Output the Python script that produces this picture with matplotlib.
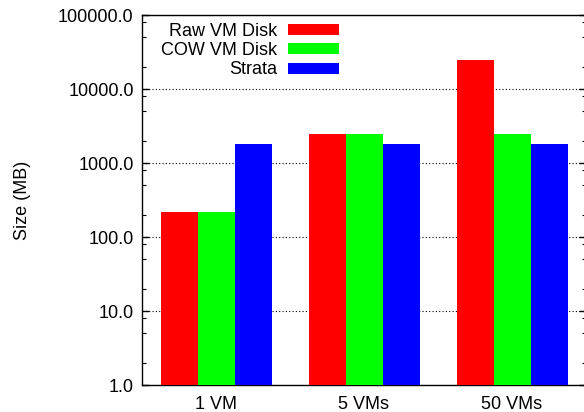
import matplotlib
matplotlib.use("Agg")
import matplotlib.pyplot as plt
import numpy as np
from matplotlib.ticker import LogLocator, FuncFormatter, NullFormatter

plt.rcParams['font.family'] = ['Liberation Sans', 'DejaVu Sans']

groups = ["1 VM", "5 VMs", "50 VMs"]
series = ["Raw VM Disk", "COW VM Disk", "Strata"]
raw_vm = [218, 2443, 24430]
cow_vm = [218, 2443, 2443]
strata = [1805, 1805, 1805]
colors = ["#ff0000", "#00ff00", "#0000ff"]

fig = plt.figure(figsize=(5.84, 4.12), dpi=100)
ax = fig.add_axes([142/584, 27/412, 444/584, 370/412])

x = np.arange(len(groups))
w = 0.25
for i, (vals, name) in enumerate(zip([raw_vm, cow_vm, strata], series)):
    ax.bar(x + (i - 1) * w, vals, w, color=colors[i], label=name, zorder=3, linewidth=0)

ax.set_yscale("log")
ax.set_ylim(1, 100000)
ax.set_xlim(-0.5, 2.5)
ax.set_xticks(x)
ax.set_xticklabels(groups)
ax.tick_params(axis='x', length=0, labelsize=13, pad=8)

ax.yaxis.set_major_locator(LogLocator(base=10, numticks=10))
ax.yaxis.set_minor_locator(LogLocator(base=10, subs=(2, 5, 8), numticks=10))
ax.yaxis.set_major_formatter(FuncFormatter(lambda v, p: "%.1f" % v))
ax.yaxis.set_minor_formatter(NullFormatter())
ax.tick_params(axis='y', which='major', direction='in', length=5, width=1,
               right=True, labelsize=13, pad=6)
ax.tick_params(axis='y', which='minor', direction='in', length=3, width=0.8, right=True)

ax.grid(axis='y', which='major', color='black', linestyle=(0, (1, 2)), linewidth=0.8, zorder=1)
ax.spines['right'].set_visible(False)
for s in ['left', 'top', 'bottom']:
    ax.spines[s].set_linewidth(1.0)

ax.set_ylabel("Size (MB)", fontsize=13)
ax.yaxis.set_label_coords(-0.25, 0.5)

leg = ax.legend(loc='upper right', bbox_to_anchor=(0.4437, 0.978), frameon=False,
                markerfirst=False, fontsize=13, handlelength=2.8, handleheight=0.55,
                handletextpad=0.6, labelspacing=0.12, borderpad=0, borderaxespad=0)

fig.savefig("out.png", dpi=100)
